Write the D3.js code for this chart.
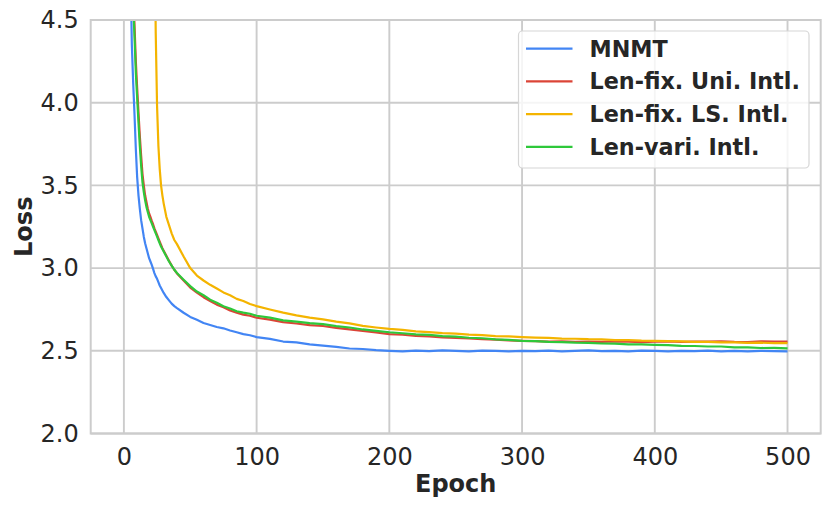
<!DOCTYPE html>
<html>
<head>
    <meta charset="utf-8">
    <title>Loss vs Epoch</title>
    <script src="https://d3js.org/d3.v7.min.js"></script>
    <style>
        body { margin: 0; background: #fff; }
        text { font-family: "DejaVu Sans", sans-serif; fill: #262626; }
        .tick line { display: none; }
        .domain { display: none; }
    </style>
</head>
<body>
<div id="chart"></div>
<script>
    // epochs shared by all four series
    const epochs = [
        1, 2, 3, 4, 5, 6, 7, 8, 9, 10, 11, 12, 13, 14, 15, 16, 17, 18, 19, 20,
        21, 22, 23, 24, 25, 26, 27, 28, 29, 30, 32, 34, 36, 38, 40,
        45, 50, 55, 60, 65, 70, 75, 80, 85, 90, 95, 100,
        110, 120, 130, 140, 150, 160, 170, 180, 190, 200,
        210, 220, 230, 240, 250, 260, 270, 280, 290, 300,
        310, 320, 330, 340, 350, 360, 370, 380, 390, 400,
        410, 420, 430, 440, 450, 460, 470, 480, 490, 500
    ];

    const mnmt = [
        9.0, 7.8, 6.6, 5.6, 4.8, 4.35, 4.12, 3.93, 3.72, 3.55, 3.44, 3.36, 3.29, 3.24, 3.19, 3.15, 3.12, 3.09, 3.06, 3.04,
        3.02, 2.995, 2.97, 2.95, 2.935, 2.915, 2.895, 2.88, 2.865, 2.85, 2.825, 2.805, 2.785, 2.77, 2.758,
        2.73, 2.705, 2.687, 2.668, 2.656, 2.644, 2.636, 2.623, 2.612, 2.601, 2.594, 2.583,
        2.572, 2.556, 2.551, 2.539, 2.531, 2.524, 2.514, 2.511, 2.504, 2.500,
        2.497, 2.501, 2.498, 2.502, 2.499, 2.497, 2.501, 2.499, 2.496, 2.500,
        2.498, 2.501, 2.497, 2.499, 2.502, 2.498, 2.500, 2.497, 2.501, 2.499,
        2.497, 2.500, 2.498, 2.501, 2.497, 2.499, 2.496, 2.500, 2.498, 2.497
    ];

    const lenFixUni = [
        10.2, 8.7, 7.5, 6.5, 5.7, 5.1, 4.7, 4.47, 4.25, 4.09, 3.94, 3.80, 3.68, 3.57, 3.50, 3.44, 3.40, 3.36, 3.33, 3.31,
        3.285, 3.265, 3.24, 3.22, 3.20, 3.18, 3.16, 3.14, 3.12, 3.105, 3.075, 3.045, 3.015, 2.99, 2.968,
        2.925, 2.882, 2.852, 2.824, 2.801, 2.779, 2.763, 2.744, 2.731, 2.719, 2.712, 2.700,
        2.688, 2.673, 2.665, 2.655, 2.650, 2.639, 2.629, 2.620, 2.611, 2.601,
        2.597, 2.590, 2.587, 2.581, 2.578, 2.575, 2.570, 2.568, 2.563, 2.560,
        2.558, 2.556, 2.557, 2.554, 2.556, 2.554, 2.557, 2.555, 2.553, 2.556,
        2.557, 2.554, 2.556, 2.555, 2.557, 2.554, 2.553, 2.557, 2.555, 2.556
    ];

    const lenFixLS = [
        14.0, 13.5, 13.0, 12.5, 12.0, 11.6, 11.2, 10.8, 10.4, 10.0, 9.7, 9.4, 9.1, 8.8, 8.6, 8.4, 8.2, 8.0, 7.8, 7.6,
        7.4, 7.0, 5.2, 4.42, 3.98, 3.74, 3.60, 3.50, 3.44, 3.39, 3.31, 3.26, 3.21, 3.17, 3.145,
        3.07, 3.00, 2.955, 2.925, 2.899, 2.877, 2.853, 2.836, 2.814, 2.801, 2.783, 2.770,
        2.750, 2.731, 2.714, 2.701, 2.690, 2.676, 2.666, 2.651, 2.641, 2.632,
        2.626, 2.617, 2.613, 2.607, 2.604, 2.598, 2.595, 2.589, 2.587, 2.583,
        2.580, 2.578, 2.574, 2.573, 2.570, 2.569, 2.565, 2.564, 2.561, 2.560,
        2.558, 2.557, 2.554, 2.554, 2.551, 2.551, 2.548, 2.549, 2.546, 2.546
    ];

    const lenVari = [
        10.0, 8.5, 7.3, 6.3, 5.5, 4.95, 4.6, 4.4, 4.18, 4.03, 3.88, 3.74, 3.62, 3.52, 3.46, 3.41, 3.37, 3.34, 3.31, 3.29,
        3.27, 3.25, 3.23, 3.21, 3.19, 3.17, 3.15, 3.13, 3.115, 3.10, 3.07, 3.04, 3.015, 2.99, 2.97,
        2.93, 2.891, 2.858, 2.836, 2.809, 2.791, 2.769, 2.756, 2.739, 2.731, 2.724, 2.712,
        2.701, 2.684, 2.676, 2.667, 2.661, 2.649, 2.641, 2.629, 2.621, 2.612,
        2.606, 2.599, 2.596, 2.589, 2.586, 2.579, 2.576, 2.569, 2.566, 2.560,
        2.558, 2.554, 2.553, 2.549, 2.548, 2.544, 2.543, 2.539, 2.539, 2.536,
        2.534, 2.530, 2.529, 2.526, 2.526, 2.521, 2.521, 2.517, 2.518, 2.515
    ];

    const seriesNames = ["MNMT", "Len-fix. Uni. Intl.", "Len-fix. LS. Intl.", "Len-vari. Intl."];
    const seriesValues = [mnmt, lenFixUni, lenFixLS, lenVari];
    const colors = ["#4285F4", "#DB4437", "#F4B400", "#2EC83A"];

    const xTicks = [0, 100, 200, 300, 400, 500];
    const yTicks = [2.0, 2.5, 3.0, 3.5, 4.0, 4.5];

    const width = 831, height = 510;
    const margin = {top: 20, right: 10.3, bottom: 76.5, left: 90.7};

    const svg = d3.select("#chart").append("svg")
        .attr("width", width)
        .attr("height", height);

    const x = d3.scaleLinear().domain([-25, 525]).range([margin.left, width - margin.right]);
    const y = d3.scaleLinear().domain([2.0, 4.5]).range([height - margin.bottom, margin.top]);

    // grid
    svg.append("g").selectAll("line")
        .data(xTicks)
        .enter().append("line")
        .attr("x1", d => x(d)).attr("x2", d => x(d))
        .attr("y1", margin.top).attr("y2", height - margin.bottom)
        .attr("stroke", "#cccccc").attr("stroke-width", 1.9);

    svg.append("g").selectAll("line")
        .data(yTicks)
        .enter().append("line")
        .attr("x1", margin.left).attr("x2", width - margin.right)
        .attr("y1", d => y(d)).attr("y2", d => y(d))
        .attr("stroke", "#cccccc").attr("stroke-width", 1.9);

    // lines
    svg.append("clipPath").attr("id", "clip")
        .append("rect")
        .attr("x", margin.left).attr("y", margin.top)
        .attr("width", width - margin.left - margin.right)
        .attr("height", height - margin.top - margin.bottom);

    const line = d3.line()
        .x((d, i) => x(epochs[i]))
        .y(d => y(d));

    svg.append("g").attr("clip-path", "url(#clip)")
        .selectAll("path")
        .data(seriesValues)
        .enter().append("path")
        .attr("d", d => line(d))
        .attr("fill", "none")
        .attr("stroke", (d, i) => colors[i])
        .attr("stroke-width", 2.2)
        .attr("stroke-linejoin", "round");

    // frame
    svg.append("rect")
        .attr("x", margin.left).attr("y", margin.top)
        .attr("width", width - margin.left - margin.right)
        .attr("height", height - margin.top - margin.bottom)
        .attr("fill", "none")
        .attr("stroke", "#cccccc").attr("stroke-width", 2);

    // axes
    svg.append("g")
        .attr("transform", "translate(0," + (height - margin.bottom) + ")")
        .call(d3.axisBottom(x).tickValues(xTicks).tickSize(0).tickPadding(14.5).tickFormat(d3.format("d")))
        .selectAll("text")
        .style("font-size", "24px")
        .style("font-family", "DejaVu Sans")
        .attr("fill", "#262626");

    svg.append("g")
        .attr("transform", "translate(" + margin.left + ",0)")
        .call(d3.axisLeft(y).tickValues(yTicks).tickSize(0).tickPadding(12).tickFormat(d3.format(".1f")))
        .selectAll("text")
        .style("font-size", "24px")
        .style("font-family", "DejaVu Sans")
        .attr("fill", "#262626");

    svg.append("text")
        .attr("x", (margin.left + width - margin.right) / 2)
        .attr("y", 492)
        .attr("text-anchor", "middle")
        .style("font-size", "24px")
        .style("font-weight", "bold")
        .text("Epoch");

    svg.append("text")
        .attr("transform", "rotate(-90)")
        .attr("x", -(margin.top + height - margin.bottom) / 2)
        .attr("y", 31.5)
        .attr("text-anchor", "middle")
        .style("font-size", "24px")
        .style("font-weight", "bold")
        .text("Loss");

    // legend
    const legend = svg.append("g");
    legend.append("rect")
        .attr("x", 518.5).attr("y", 31)
        .attr("width", 290.5).attr("height", 137)
        .attr("rx", 4)
        .attr("fill", "#ffffff").attr("fill-opacity", 0.8)
        .attr("stroke", "#d6d6d6").attr("stroke-width", 1.2);

    seriesNames.forEach((name, i) => {
        const ly = 48.7 + i * 32.7;
        legend.append("line")
            .attr("x1", 526).attr("x2", 572.5)
            .attr("y1", ly).attr("y2", ly)
            .attr("stroke", colors[i]).attr("stroke-width", 2.2);
        legend.append("text")
            .attr("x", 589.5).attr("y", ly)
            .attr("dy", "0.36em")
            .style("font-size", "22.3px")
            .style("font-weight", "bold")
            .text(name);
    });
</script>
</body>
</html>
